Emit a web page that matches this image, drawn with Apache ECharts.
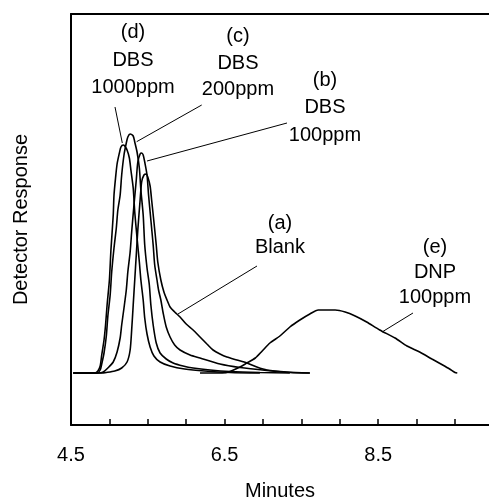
<!DOCTYPE html>
<html>
<head>
<meta charset="utf-8">
<script src="https://cdn.jsdelivr.net/npm/echarts@6/dist/echarts.min.js"></script>
<style>
  html, body { margin: 0; padding: 0; background: #fff; }
  #chart { width: 489px; height: 499px; }
</style>
</head>
<body>
<div id="chart"></div>
<script>
// ---- data: [minutes, detector response (arbitrary units)] ----
const blank = [[4.53,0],[4.90,0],[4.96,0.05],[5.07,0.2],[5.16,0.5],[5.23,1.1],[5.27,2.3],[5.29,4.3],[5.31,6.8],[5.33,9.3],[5.35,11.8],[5.37,14.3],[5.40,17.3],[5.42,19.1],[5.45,19.8],[5.48,19.9],[5.50,19.6],[5.53,18.7],[5.55,17.3],[5.58,15.1],[5.61,12.8],[5.63,11.1],[5.67,9.3],[5.71,8.1],[5.75,7.3],[5.79,6.6],[5.85,6.1],[5.92,5.6],[6.00,4.9],[6.09,4.3],[6.18,3.6],[6.27,2.9],[6.35,2.3],[6.44,1.9],[6.53,1.6],[6.66,1.3],[6.79,1.0],[6.92,0.6],[7.05,0.3],[7.31,0.1],[7.61,0]];
const dbs100 = [[4.53,0],[4.86,0],[4.92,0.1],[4.98,0.5],[5.05,1.1],[5.10,2.1],[5.14,3.5],[5.16,4.8],[5.19,6.5],[5.22,8.3],[5.24,10.1],[5.27,12.1],[5.29,14.1],[5.32,16.8],[5.35,19.3],[5.37,21.1],[5.40,21.9],[5.42,22.0],[5.44,21.8],[5.46,21.1],[5.49,19.8],[5.51,17.8],[5.54,15.3],[5.57,12.8],[5.59,10.8],[5.62,9.3],[5.64,8.3],[5.67,7.3],[5.70,6.0],[5.74,4.6],[5.79,3.6],[5.85,2.8],[5.92,2.3],[6.05,1.8],[6.18,1.5],[6.44,0.9],[6.70,0.55],[7.05,0.25],[7.35,0.05],[7.61,0]];
const dbs200 = [[4.53,0],[4.84,0],[4.88,0.3],[4.90,0.9],[4.93,2.0],[4.96,3.7],[4.98,5.7],[5.01,7.8],[5.03,10.1],[5.06,12.5],[5.09,14.5],[5.11,16.3],[5.14,17.8],[5.16,19.8],[5.19,21.8],[5.22,23.0],[5.24,23.6],[5.27,23.9],[5.31,23.7],[5.33,23.1],[5.36,22.1],[5.39,20.5],[5.41,18.3],[5.44,15.8],[5.46,12.8],[5.49,10.5],[5.52,8.8],[5.54,6.8],[5.57,4.8],[5.61,3.0],[5.66,2.0],[5.74,1.4],[5.83,1.0],[5.96,0.7],[6.09,0.5],[6.31,0.3],[6.57,0.15],[6.96,0.05],[7.35,0]];
const dbs1000 = [[4.53,0],[4.81,0],[4.85,0.2],[4.88,0.7],[4.90,1.8],[4.93,3.3],[4.95,4.8],[4.97,6.8],[5.00,9.3],[5.02,12.3],[5.05,15.8],[5.06,17.8],[5.08,19.5],[5.10,20.9],[5.13,22.0],[5.15,22.6],[5.18,22.8],[5.20,22.7],[5.23,22.3],[5.26,21.5],[5.28,20.3],[5.31,18.5],[5.33,16.1],[5.36,13.5],[5.39,11.1],[5.41,9.3],[5.44,7.3],[5.46,5.5],[5.49,3.9],[5.53,2.6],[5.58,1.7],[5.66,1.1],[5.79,0.7],[5.98,0.4],[6.24,0.2],[6.57,0.05],[6.96,0]];
const dnp100 = [[6.18,0],[6.47,0],[6.57,0.15],[6.70,0.6],[6.79,1.0],[6.90,1.5],[6.99,2.2],[7.09,3.0],[7.22,3.7],[7.35,4.6],[7.48,5.3],[7.61,5.9],[7.72,6.3],[7.94,6.3],[8.07,6.1],[8.20,5.7],[8.35,5.1],[8.52,4.3],[8.72,3.5],[8.875,2.7],[9.04,2.1],[9.20,1.4],[9.34,0.8],[9.43,0.4],[9.50,0.05],[9.53,0]];

const xTickLabels = ['4.5', '6.5', '8.5'];

// annotation texts, anchors and leader lines (all in data coordinates)
const annoTexts = ['(d)\nDBS\n1000ppm', '(c)\nDBS\n200ppm', '(b)\nDBS\n100ppm', '(a)\nBlank', '(e)\nDNP\n100ppm'];
const annoAnchors = [[5.307, 31.3], [6.674, 31.0], [7.807, 26.55], [7.221, 13.8], [9.24, 10.1]];
const annoLineHeights = [27.5, 26.5, 27.5, 24, 25];
const leaderStart = [[5.073, 26.6], [6.202, 26.8], [7.3125, 25.0], [6.922, 10.7], [8.953, 6.0]];
const leaderEnd = [[5.168, 23.0], [5.355, 23.13], [5.49, 21.2], [5.893, 5.9], [8.55, 4.1]];

const FONT = "'Liberation Sans', Arial, Helvetica, sans-serif";
const dom = document.getElementById('chart');
const chart = echarts.init(dom, null, { renderer: 'canvas' });

function mkSeries(name, data, extra) {
  return Object.assign({
    name: name, type: 'line', data: data, showSymbol: false, symbol: 'none',
    smooth: 0.25, lineStyle: { color: '#000', width: 1.6 }, itemStyle: { color: '#000' },
    silent: true, z: 3
  }, extra || {});
}

const leaderData = leaderStart.map((s, i) => [{ coord: s }, { coord: leaderEnd[i] }]);

chart.setOption({
  animation: false,
  backgroundColor: '#fff',
  grid: { left: 71, right: 0, top: 14, bottom: 74, containLabel: false, outerBoundsMode: 'none' },
  xAxis: [{
    type: 'value', min: 4.5, max: 9.943, interval: 0.5, position: 'bottom',
    name: 'Minutes', nameLocation: 'middle', nameGap: 56,
    nameTextStyle: { fontFamily: FONT, fontSize: 20, color: '#000' },
    axisLine: { show: true, onZero: false, lineStyle: { color: '#000', width: 2 } },
    axisTick: { show: true, inside: true, length: 6, lineStyle: { color: '#000', width: 1.5 } },
    axisLabel: {
      show: true, margin: 20, fontFamily: FONT, fontSize: 20, color: '#000',
      showMaxLabel: false,
      formatter: function (v) {
        const s = (Math.round(v * 100) / 100).toFixed(1);
        return xTickLabels.indexOf(s) >= 0 ? s : '';
      }
    },
    splitLine: { show: false }
  }, {
    type: 'value', min: 4.5, max: 9.943, position: 'top',
    axisLine: { show: true, onZero: false, lineStyle: { color: '#000', width: 2 } },
    axisTick: { show: false }, axisLabel: { show: false }, splitLine: { show: false }
  }],
  yAxis: {
    type: 'value', min: -5.2, max: 35.9,
    name: 'Detector Response', nameLocation: 'middle', nameGap: 40,
    nameTextStyle: { fontFamily: FONT, fontSize: 20, color: '#000' },
    axisLine: { show: true, onZero: false, lineStyle: { color: '#000', width: 2 } },
    axisTick: { show: false }, axisLabel: { show: false }, splitLine: { show: false }
  },
  series: [
    mkSeries('(a) Blank', blank, {
      markLine: {
        silent: true, symbol: ['none', 'none'], animation: false,
        lineStyle: { color: '#000', width: 1, type: 'solid' },
        label: { show: false }, emphasis: { disabled: true },
        data: leaderData
      }
    }),
    mkSeries('(b) DBS 100ppm', dbs100),
    mkSeries('(c) DBS 200ppm', dbs200),
    mkSeries('(d) DBS 1000ppm', dbs1000),
    mkSeries('(e) DNP 100ppm', dnp100)
  ]
});

const graphics = annoTexts.map((t, i) => {
  const p = chart.convertToPixel({ gridIndex: 0 }, annoAnchors[i]);
  return {
    type: 'text', x: p[0], y: p[1], silent: true, z: 10,
    style: {
      text: t, fill: '#000', font: '20px ' + FONT,
      align: 'center', verticalAlign: 'middle', lineHeight: annoLineHeights[i]
    }
  };
});
chart.setOption({ graphic: graphics });
</script>
</body>
</html>
